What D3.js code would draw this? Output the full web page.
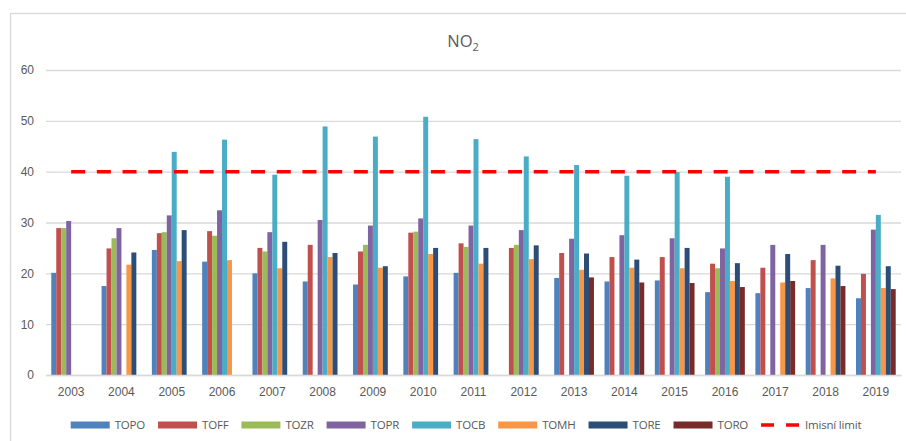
<!DOCTYPE html>
<html>
<head>
<meta charset="utf-8">
<script src="https://cdn.jsdelivr.net/npm/d3@7"></script>
<style>
  html, body { margin: 0; padding: 0; background: #fff; }
  svg { display: block; font-family: "Open Sans", "Liberation Sans", sans-serif; }
</style>
</head>
<body>
<svg id="chart" width="906" height="441"></svg>
<script>
// Annual mean NO2 concentrations by station
const years = ["2003","2004","2005","2006","2007","2008","2009","2010","2011","2012","2013","2014","2015","2016","2017","2018","2019"];
const stations = ["TOPO","TOFF","TOZR","TOPR","TOCB","TOMH","TORE","TORO"];
const stationColors = ["#4F81BD","#C0504D","#9BBB59","#8064A2","#4BACC6","#F79646","#2C4D75","#772C2A"];

const TOPO = [20.1, 17.5, 24.6, 22.3, 20.0, 18.4, 17.8, 19.4, 20.1, null, 19.1, 18.4, 18.6, 16.3, 16.1, 17.1, 15.1];
const TOFF = [28.9, 24.9, 27.9, 28.3, 25.0, 25.6, 24.3, 28.0, 25.9, 25.0, 24.0, 23.2, 23.2, 21.9, 21.1, 22.6, 19.9];
const TOZR = [28.9, 26.9, 28.1, 27.4, 24.3, null, 25.6, 28.2, 25.2, 25.6, null, null, null, 21.0, null, null, null];
const TOPR = [30.3, 28.9, 31.4, 32.4, 28.1, 30.5, 29.4, 30.8, 29.4, 28.5, 26.8, 27.5, 26.9, 24.9, 25.6, 25.6, 28.6];
const TOCB = [null, null, 43.9, 46.3, 39.4, 48.9, 46.9, 50.8, 46.4, 43.0, 41.3, 39.2, 39.9, 39.0, null, null, 31.5];
const TOMH = [null, 21.7, 22.4, 22.6, 21.0, 23.2, 21.1, 23.8, 21.9, 22.8, 20.7, 21.1, 21.0, 18.5, 18.2, 19.0, 17.1];
const TORE = [null, 24.1, 28.5, null, 26.2, 24.0, 21.4, 25.0, 25.0, 25.5, 23.9, 22.7, 25.0, 22.0, 23.8, 21.5, 21.4];
const TORO = [null, null, null, null, null, null, null, null, null, null, 19.2, 18.2, 18.1, 17.3, 18.5, 17.5, 16.9];
const limit = [40, 40, 40, 40, 40, 40, 40, 40, 40, 40, 40, 40, 40, 40, 40, 40, 40];
const limitLabel = "Imisní limit";
const yTicks = [0, 10, 20, 30, 40, 50, 60];

const seriesValues = [TOPO, TOFF, TOZR, TOPR, TOCB, TOMH, TORE, TORO];

const svg = d3.select("#chart");
const textColor = "#595959";
const gridColor = "#d9d9d9";

// chart area frame
svg.append("rect")
  .attr("x", 10.5).attr("y", 13.5)
  .attr("width", 906).attr("height", 440)
  .attr("fill", "none").attr("stroke", gridColor).attr("stroke-width", 1.3);

const plot = { left: 46, right: 901, top: 70, bottom: 375 };

const x = d3.scaleBand()
  .domain(years)
  .range([plot.left, plot.right])
  .paddingInner(0.21)
  .paddingOuter(0.105);

const xs = d3.scaleBand()
  .domain(stations)
  .range([0, x.bandwidth()]);

const y = d3.scaleLinear().domain([0, 60]).range([plot.bottom, plot.top]);

// gridlines and value labels
const yAxis = d3.axisLeft(y).tickValues(yTicks).tickSize(-(plot.right - plot.left)).tickPadding(12);
const gy = svg.append("g").attr("transform", `translate(${plot.left},0)`).call(yAxis);
gy.select(".domain").remove();
gy.selectAll(".tick line").attr("stroke", gridColor).attr("stroke-width", 1.3);
gy.selectAll(".tick text").attr("fill", textColor).attr("font-size", 12)
  .attr("x", 34 - plot.left).attr("text-anchor", "end");

// bars
const barData = [];
seriesValues.forEach((vals, si) => {
  vals.forEach((v, yi) => {
    if (v != null) barData.push({ station: stations[si], year: years[yi], value: v, color: stationColors[si] });
  });
});

svg.append("g").selectAll("rect")
  .data(barData)
  .join("rect")
  .attr("x", d => x(d.year) + xs(d.station))
  .attr("width", xs.bandwidth())
  .attr("y", d => y(d.value))
  .attr("height", d => y(0) - y(d.value))
  .attr("fill", d => d.color);

// category axis
const xAxis = d3.axisBottom(x).tickSize(0).tickPadding(12);
const gx = svg.append("g").attr("transform", `translate(0,${plot.bottom})`).call(xAxis);
gx.select(".domain").attr("stroke", gridColor).attr("stroke-width", 1.3);
gx.selectAll(".tick text").attr("fill", textColor).attr("font-size", 12);

// emission limit line
const limitLine = d3.line()
  .x((d, i) => x(years[i]) + x.bandwidth() / 2)
  .y(d => y(d));

svg.append("path")
  .datum(limit)
  .attr("d", limitLine)
  .attr("fill", "none")
  .attr("stroke", "#FF0000")
  .attr("stroke-width", 3.5)
  .attr("stroke-dasharray", "14,11.7");

// title
const title = svg.append("text")
  .attr("x", 463).attr("y", 47)
  .attr("text-anchor", "middle")
  .attr("fill", textColor)
  .attr("font-size", 16.5);
title.append("tspan").text("NO");
title.append("tspan").attr("font-size", 11).attr("dy", 4).text("2");

// legend
const legend = svg.append("g");
const items = stations.map((s, i) => ({ label: s, color: stationColors[i], line: false }))
  .concat([{ label: limitLabel, color: "#FF0000", line: true }]);

const itemGap = 13;
let cursor = 0;
const legendY = 425;
items.forEach(it => {
  const g = legend.append("g").attr("transform", `translate(${cursor},0)`);
  if (it.line) {
    g.append("line")
      .attr("x1", 0).attr("x2", 39)
      .attr("y1", legendY).attr("y2", legendY)
      .attr("stroke", it.color).attr("stroke-width", 3.5)
      .attr("stroke-dasharray", "13,12");
  } else {
    g.append("rect")
      .attr("x", 0).attr("y", legendY - 3.5)
      .attr("width", 39).attr("height", 7)
      .attr("fill", it.color);
  }
  const t = g.append("text")
    .attr("x", 44).attr("y", legendY)
    .attr("dy", "0.35em")
    .attr("fill", textColor)
    .attr("font-size", 11.5)
    .attr("letter-spacing", -0.2)
    .text(it.label);
  cursor += 44 + t.node().getComputedTextLength() + itemGap;
});
const legendWidth = cursor - itemGap;
legend.attr("transform", `translate(${466 - legendWidth / 2},0)`);
</script>
</body>
</html>
